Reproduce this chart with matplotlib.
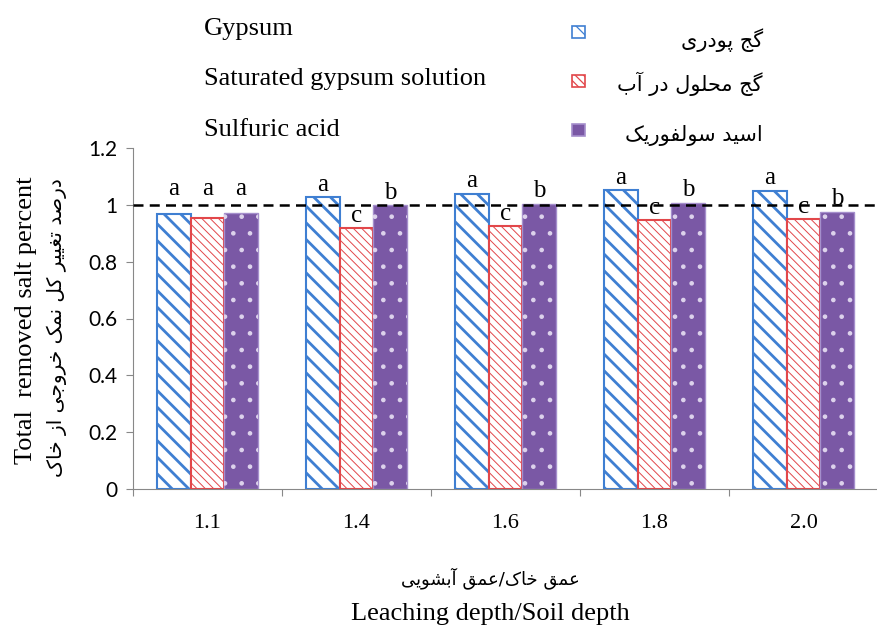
import numpy as np
import matplotlib
matplotlib.use("Agg")
import matplotlib.pyplot as plt
from matplotlib.patches import Rectangle

# data
depth_labels = ["1.1", "1.4", "1.6", "1.8", "2.0"]
gypsum = [0.968, 1.026, 1.039, 1.053, 1.050]
saturated = [0.953, 0.918, 0.926, 0.947, 0.951]
sulfuric = [0.973, 1.000, 1.004, 1.008, 0.976]
letters_gypsum = ["a", "a", "a", "a", "a"]
letters_saturated = ["a", "c", "c", "c", "c"]
letters_sulfuric = ["a", "b", "b", "b", "b"]

names_en = ["Gypsum", "Saturated gypsum solution", "Sulfuric acid"]
names_fa = ["گج پودری", "گج محلول در آب", "اسید سولفوریک"]
ylabel_en = "Total  removed salt percent"
ylabel_fa = "درصد تغییر کل نمک خروجی از خاک"
xlabel_en = "Leaching depth/Soil depth"
xlabel_fa = "عمق خاک/عمق آبشویی"

BLUE = "#3f7fd2"
RED = "#e2474a"
PURPLE = "#7a58a5"
SERIF = "Liberation Serif"

# minimal persian shaping (isolated, final, initial, medial)
FORMS = {
    "ا": ("\uFE8D", "\uFE8E"), "آ": ("\uFE81", "\uFE82"),
    "د": ("\uFEA9", "\uFEAA"), "ر": ("\uFEAD", "\uFEAE"),
    "ز": ("\uFEAF", "\uFEB0"), "و": ("\uFEED", "\uFEEE"),
    "ب": ("\uFE8F", "\uFE90", "\uFE91", "\uFE92"),
    "پ": ("\uFB56", "\uFB57", "\uFB58", "\uFB59"),
    "ت": ("\uFE95", "\uFE96", "\uFE97", "\uFE98"),
    "ج": ("\uFE9D", "\uFE9E", "\uFE9F", "\uFEA0"),
    "ح": ("\uFEA1", "\uFEA2", "\uFEA3", "\uFEA4"),
    "خ": ("\uFEA5", "\uFEA6", "\uFEA7", "\uFEA8"),
    "س": ("\uFEB1", "\uFEB2", "\uFEB3", "\uFEB4"),
    "ش": ("\uFEB5", "\uFEB6", "\uFEB7", "\uFEB8"),
    "ص": ("\uFEB9", "\uFEBA", "\uFEBB", "\uFEBC"),
    "ع": ("\uFEC9", "\uFECA", "\uFECB", "\uFECC"),
    "غ": ("\uFECD", "\uFECE", "\uFECF", "\uFED0"),
    "ف": ("\uFED1", "\uFED2", "\uFED3", "\uFED4"),
    "ق": ("\uFED5", "\uFED6", "\uFED7", "\uFED8"),
    "ک": ("\uFB8E", "\uFB8F", "\uFB90", "\uFB91"),
    "گ": ("\uFB92", "\uFB93", "\uFB94", "\uFB95"),
    "ل": ("\uFEDD", "\uFEDE", "\uFEDF", "\uFEE0"),
    "م": ("\uFEE1", "\uFEE2", "\uFEE3", "\uFEE4"),
    "ن": ("\uFEE5", "\uFEE6", "\uFEE7", "\uFEE8"),
    "ی": ("\uFBFC", "\uFBFD", "\uFBFE", "\uFBFF"),
}


def fa(text):
    out = []
    for i, ch in enumerate(text):
        if ch not in FORMS:
            out.append(ch)
            continue
        prev = text[i - 1] if i > 0 else ""
        nxt = text[i + 1] if i + 1 < len(text) else ""
        jp = prev in FORMS and len(FORMS[prev]) == 4
        jn = len(FORMS[ch]) == 4 and nxt in FORMS
        f = FORMS[ch]
        if jp and jn:
            out.append(f[3])
        elif jp:
            out.append(f[1])
        elif jn:
            out.append(f[2])
        else:
            out.append(f[0])
    return "".join(reversed(out))


fig = plt.figure(figsize=(8.78, 6.3), dpi=100)
ax = fig.add_axes([133 / 878, 141 / 630, 745 / 878, 341 / 630])

x = np.arange(len(depth_labels))
w = 0.225

plt.rcParams["hatch.linewidth"] = 2.0
ax.bar(x - w, gypsum, w, facecolor="white", edgecolor=BLUE, hatch="\\\\", lw=1.5)
plt.rcParams["hatch.linewidth"] = 0.7
ax.bar(x, saturated, w, facecolor="white", edgecolor=RED, hatch="\\\\\\\\", lw=1.5)
ax.bar(x + w, sulfuric, w, facecolor=PURPLE, edgecolor="#a58fcc", lw=1)
plt.rcParams["hatch.linewidth"] = 0.9
ax.bar(x + w, sulfuric, w, fill=False, edgecolor="#ddd3ec", hatch=".", lw=0)

ax.axhline(1.0, color="black", ls=(0, (4, 2.5)), lw=1.8, zorder=5)

# significance letters
for i in range(len(x)):
    for off, vals, lets in [(-w, gypsum, letters_gypsum),
                            (0, saturated, letters_saturated),
                            (w, sulfuric, letters_sulfuric)]:
        y = 1.035 if i == 0 else vals[i] + 0.022
        ax.text(x[i] + off, y, lets[i], ha="center", va="baseline",
                fontsize=18, family=SERIF)

ax.set_xlim(-0.5, 4.434)
ax.set_ylim(0, 1.2)
ax.set_yticks([0, 0.2, 0.4, 0.6, 0.8, 1.0, 1.2])
ax.set_yticklabels(["0", "0.2", "0.4", "0.6", "0.8", "1", "1.2"],
                   family="Lato", fontsize=15)
ax.set_xticks(np.arange(-0.5, 5, 1.0))
ax.set_xticklabels([])
ax.set_xticks(x, minor=True)
ax.set_xticklabels(depth_labels, minor=True, family=SERIF, fontsize=16)
ax.tick_params(axis="x", which="minor", length=0, pad=18)
ax.tick_params(axis="x", which="major", length=5, color="#888888")
ax.tick_params(axis="y", length=5, color="#888888", pad=6)
for s in ["top", "right"]:
    ax.spines[s].set_visible(False)
for s in ["left", "bottom"]:
    ax.spines[s].set_color("#888888")

# axis titles
fig.text(26 / 878, 1 - 320 / 630, ylabel_en, rotation=90, ha="center", va="center",
         family=SERIF, fontsize=19)
fig.text(57 / 878, 1 - 328 / 630, fa(ylabel_fa), rotation=90, ha="center", va="center",
         family="DejaVu Sans", fontsize=14.5)
fig.text(490 / 878, 1 - 578 / 630, fa(xlabel_fa), ha="center", va="center",
         family="DejaVu Sans", fontsize=13)
fig.text(490 / 878, 1 - 614 / 630, xlabel_en, ha="center", va="center",
         family=SERIF, fontsize=19)

# legend drawn by hand
en_y = [35, 85, 136]
fa_y = [40, 84, 135]
box_y = [32, 81, 130]
styles = [dict(facecolor="white", edgecolor=BLUE, hatch="\\\\"),
          dict(facecolor="white", edgecolor=RED, hatch="\\\\\\\\"),
          dict(facecolor=PURPLE, edgecolor="#a58fcc")]
for k in range(3):
    fig.text(204 / 878, 1 - en_y[k] / 630, names_en[k], ha="left", va="baseline",
             family=SERIF, fontsize=19)
    fig.text(763 / 878, 1 - fa_y[k] / 630, fa(names_fa[k]), ha="right", va="center",
             family="DejaVu Sans", fontsize=15)
    fig.patches.append(Rectangle((572 / 878, 1 - (box_y[k] + 6) / 630), 13 / 878, 12 / 630,
                                 transform=fig.transFigure, lw=1.2, **styles[k]))

fig.savefig("out.png", dpi=100)
